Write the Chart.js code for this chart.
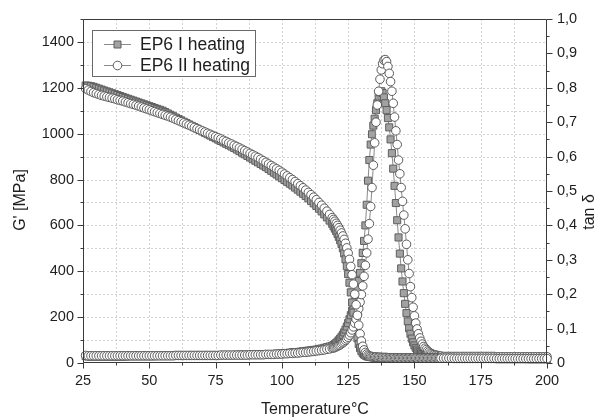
<!DOCTYPE html>
<html><head><meta charset="utf-8">
<script src="https://cdn.jsdelivr.net/npm/chart.js@4.4.1/dist/chart.umd.min.js"></script>
<style>html,body{margin:0;padding:0;background:#fff;}#wrap{width:603px;height:420px;position:relative;}</style>
</head><body><div id="wrap"><canvas id="c" width="603" height="420"></canvas></div>
<script>
// Temperature (°C) shared by all curves
const temperature = [
 26,27,28,29,30,31,32,33,34,35, 36,37,38,39,40,41,42,43,44,45,
 46,47,48,49,50,51,52,53,54,55, 56,57,58,59,60,61,62,63,64,65,
 66,67,68,69,70,71,72,73,74,75, 76,77,78,79,80,81,82,83,84,85,
 86,87,88,89,90,91,92,93,94,95, 96,97,98,99,100,101,102,103,104,105,
 106,107,108,109,110,111,112,113,114,115, 116,117,118,119,
 119.5,120,120.5,121,121.5,122,122.5,123,123.5,124,
 124.5,125,125.5,126,126.5,127,127.5,128,128.5,129,
 129.5,130,130.5,131,131.5,132,132.5,133,133.5,134,
 134.5,135,135.5,136,136.5,137,137.5,138,138.5,139,
 139.5,140,140.5,141,141.5,142,142.5,143,143.5,144,
 144.5,145,145.5,146,146.5,147,147.5,148,148.5,149,
 149.5,150,150.5,151,151.5,152,152.5,153,153.5,154,
 154.5,155,155.5,156,156.5,157,157.5,158,158.5,159,
 159.5,160,
 161,162,163,164,165,166,167,168,169,170, 171,172,173,174,175,176,177,178,179,180,
 181,182,183,184,185,186,187,188,189,190, 191,192,193,194,195,196,197,198,199,200
];
// G' [MPa], EP6 I heating
const storageI = [
 1210,1209,1207,1204,1200,1196,1192,1188,1184,1180, 1176,1172,1168,1164,1160,1156,1152,1148,1144,1140,
 1136,1132,1128,1124,1120,1116,1112,1108,1104,1100, 1094,1088,1082,1076,1070,1064,1058,1052,1046,1040,
 1034,1028,1022,1016,1010,1004,998,992,986,980, 974,968,962,956,950,944,938,931,924,917,
 910,903,896,889,882,875,868,861,854,846, 838,830,822,814,806,798,790,782,774,765,
 756,747,738,728,718,707,696,685,673,661, 648,635,621,607,
 596,586,575,563,550,535,519,500,478,452,
 422,388,350,308,264,220,178,140,108,83,
 65,52,43,37,33,30,28,27,26,25,
 25,24,24,24,24,23,23,23,23,23,
 22,22,22,22,22,22,22,21,21,21,
 21,21,21,21,21,21,21,21,21,21,
 20,20,20,20,20,20,20,20,20,20,
 20,20,20,20,20,20,20,20,20,20,
 20,20,
 20,20,20,20,19,19,19,19,19,19, 19,19,18,18,18,18,18,18,18,18,
 18,18,18,18,18,18,18,18,18,18, 18,18,17,17,17,17,17,17,17,17
];
// G' [MPa], EP6 II heating
const storageII = [
 1196,1190,1184,1179,1175,1171,1167,1164,1161,1158, 1155,1152,1148,1145,1142,1138,1135,1131,1128,1124,
 1120,1116,1112,1108,1104,1100,1096,1092,1088,1084, 1080,1076,1072,1067,1062,1057,1052,1047,1042,1037,
 1032,1027,1022,1017,1012,1007,1002,997,992,987, 982,977,971,966,960,955,949,944,938,932,
 926,920,914,908,902,896,889,882,875,868, 861,854,847,840,832,824,816,808,800,791,
 782,773,764,754,744,734,723,712,700,688, 675,662,648,634,
 626,618,609,600,590,579,567,554,539,522,
 502,479,452,421,385,344,300,254,208,165,
 127,96,73,57,46,39,34,31,29,28,
 27,26,26,25,25,25,24,24,24,24,
 24,23,23,23,23,23,23,22,22,22,
 22,22,22,22,22,22,22,22,22,22,
 22,22,22,21,21,21,21,21,21,21,
 21,21,21,21,21,21,21,21,21,21,
 21,21,
 21,21,21,21,20,20,20,20,20,20, 20,20,20,20,20,20,20,20,20,20,
 19,19,19,19,19,19,19,19,19,19, 19,19,19,19,19,19,19,19,19,19
];
// tan δ, EP6 I heating
const tanI = [
 0.020,0.019,0.019,0.019,0.019,0.019,0.019,0.019,0.019,0.019, 0.019,0.019,0.019,0.019,0.019,0.019,0.020,0.020,0.020,0.020,
 0.020,0.020,0.020,0.020,0.020,0.020,0.020,0.021,0.021,0.021, 0.021,0.021,0.021,0.021,0.021,0.021,0.021,0.022,0.022,0.022,
 0.022,0.022,0.022,0.022,0.022,0.022,0.022,0.022,0.023,0.023, 0.023,0.023,0.023,0.023,0.023,0.023,0.023,0.024,0.024,0.024,
 0.024,0.024,0.024,0.024,0.025,0.025,0.025,0.025,0.025,0.026, 0.026,0.026,0.027,0.027,0.028,0.029,0.029,0.030,0.031,0.031,
 0.032,0.033,0.034,0.035,0.036,0.037,0.038,0.039,0.041,0.042, 0.044,0.046,0.048,0.050,
 0.052,0.055,0.058,0.062,0.066,0.071,0.076,0.082,0.089,0.097,
 0.106,0.116,0.127,0.139,0.152,0.166,0.181,0.198,0.217,0.238,
 0.262,0.29,0.32,0.355,0.40,0.46,0.53,0.59,0.635,0.665,
 0.69,0.71,0.735,0.755,0.775,0.787,0.79,0.785,0.772,0.755,
 0.735,0.712,0.685,0.65,0.61,0.565,0.515,0.465,0.415,0.365,
 0.318,0.275,0.237,0.203,0.172,0.145,0.121,0.101,0.085,0.071,
 0.06,0.051,0.044,0.039,0.034,0.031,0.028,0.026,0.024,0.022,
 0.021,0.02,0.019,0.019,0.018,0.018,0.018,0.017,0.017,0.017,
 0.017,0.017,
 0.017,0.017,0.017,0.017,0.017,0.017,0.017,0.017,0.017,0.017, 0.016,0.016,0.016,0.016,0.016,0.016,0.016,0.016,0.016,0.016,
 0.016,0.016,0.016,0.016,0.016,0.016,0.016,0.016,0.016,0.016, 0.016,0.016,0.016,0.016,0.016,0.016,0.016,0.016,0.016,0.016
];
// tan δ, EP6 II heating
const tanII = [
 0.022,0.021,0.021,0.021,0.021,0.021,0.021,0.021,0.021,0.021, 0.021,0.021,0.021,0.021,0.021,0.021,0.021,0.021,0.021,0.021,
 0.021,0.021,0.021,0.021,0.021,0.021,0.021,0.021,0.021,0.021, 0.021,0.021,0.021,0.021,0.022,0.022,0.022,0.022,0.022,0.022,
 0.022,0.022,0.022,0.022,0.022,0.022,0.022,0.022,0.022,0.022, 0.022,0.023,0.023,0.023,0.023,0.023,0.023,0.023,0.023,0.023,
 0.023,0.023,0.024,0.024,0.024,0.024,0.024,0.024,0.025,0.025, 0.025,0.025,0.026,0.026,0.026,0.027,0.027,0.028,0.028,0.029,
 0.029,0.030,0.031,0.031,0.032,0.033,0.034,0.035,0.036,0.037, 0.038,0.040,0.041,0.043,
 0.044,0.045,0.047,0.049,0.051,0.053,0.056,0.059,0.062,0.066,
 0.070,0.075,0.081,0.088,0.096,0.105,0.116,0.128,0.142,0.158,
 0.177,0.199,0.224,0.252,0.284,0.32,0.36,0.405,0.455,0.51,
 0.575,0.64,0.70,0.75,0.79,0.825,0.852,0.87,0.88,0.882,
 0.876,0.862,0.842,0.818,0.79,0.755,0.715,0.675,0.635,0.59,
 0.55,0.51,0.47,0.43,0.39,0.345,0.30,0.26,0.222,0.19,
 0.162,0.137,0.116,0.099,0.085,0.073,0.063,0.055,0.048,0.043,
 0.039,0.035,0.032,0.029,0.027,0.025,0.024,0.023,0.022,0.021,
 0.020,0.020,
 0.019,0.019,0.019,0.019,0.019,0.019,0.019,0.019,0.019,0.019, 0.019,0.019,0.019,0.019,0.019,0.019,0.019,0.019,0.019,0.019,
 0.018,0.018,0.018,0.018,0.018,0.018,0.018,0.018,0.018,0.018, 0.018,0.018,0.018,0.018,0.018,0.018,0.018,0.018,0.018,0.018
];
const seriesNames = ['EP6 I heating', 'EP6 II heating'];
const xAxisTitle = 'Temperature°C';
const yAxisTitle = "G' [MPa]";
const y2AxisTitle = 'tan δ';

const FONT = '"Liberation Sans", Arial, sans-serif';
const pts = vals => temperature.map((t, i) => ({x: t, y: vals[i]}));

const sqStyle = {pointStyle: 'rect', pointRadius: 5, pointBackgroundColor: '#a2a2a2', pointBorderColor: '#5e5e5e', pointBorderWidth: 1, borderColor: '#8a8a8a', borderWidth: 1, order: 2};
const ciStyle = {pointStyle: 'circle', pointRadius: 4.3, pointBackgroundColor: '#ffffff', pointBorderColor: '#5a5a5a', pointBorderWidth: 1, borderColor: '#8a8a8a', borderWidth: 1, order: 1};

const decor = {
  id: 'decor',
  beforeDatasetsDraw(chart) {
    const {ctx, chartArea: a, scales: {x, y}} = chart;
    ctx.save();
    ctx.strokeStyle = '#d2d2d2'; ctx.lineWidth = 1; ctx.setLineDash([2, 2]);
    x.ticks.forEach(t => {
      if (t.value <= x.min || t.value >= x.max) return;
      const p = Math.round(x.getPixelForValue(t.value)) + 0.5;
      ctx.beginPath(); ctx.moveTo(p, a.top); ctx.lineTo(p, a.bottom); ctx.stroke();
    });
    y.ticks.forEach(t => {
      if (t.value <= y.min || t.value >= y.max) return;
      const p = Math.round(y.getPixelForValue(t.value)) + 0.5;
      ctx.beginPath(); ctx.moveTo(a.left, p); ctx.lineTo(a.right, p); ctx.stroke();
    });
    ctx.restore();
  },
  afterDatasetsDraw(chart) {
    const {ctx, chartArea: a, scales: {x, y, y2}} = chart;
    ctx.save();
    ctx.strokeStyle = '#3a3a3a'; ctx.lineWidth = 1;
    const L = Math.round(a.left) + 0.5, R = Math.round(a.right) - 0.5, T = Math.round(a.top) + 0.5, B = Math.round(a.bottom) - 0.5;
    ctx.beginPath(); ctx.moveTo(L, T); ctx.lineTo(R, T); ctx.lineTo(R, B); ctx.lineTo(L, B); ctx.closePath(); ctx.stroke();
    // ticks
    ctx.beginPath();
    x.ticks.forEach(t => {
      const p = Math.round(x.getPixelForValue(t.value)) + 0.5;
      const len = t.label ? 6 : 3;
      ctx.moveTo(p, B); ctx.lineTo(p, B + len);
    });
    y.ticks.forEach(t => {
      const p = Math.round(y.getPixelForValue(t.value)) + 0.5;
      const len = t.label ? 6 : 3;
      ctx.moveTo(L, p); ctx.lineTo(L - len, p);
    });
    y2.ticks.forEach(t => {
      const p = Math.round(y2.getPixelForValue(t.value)) + 0.5;
      const len = t.label ? 6 : 3;
      ctx.moveTo(R, p); ctx.lineTo(R + len, p);
    });
    ctx.stroke();
    // axis titles
    ctx.fillStyle = '#1e1e1e';
    ctx.font = '16px ' + FONT;
    ctx.textAlign = 'center'; ctx.textBaseline = 'middle';
    ctx.fillText(xAxisTitle, (a.left + a.right) / 2, 410);
    ctx.save(); ctx.translate(21, 200); ctx.rotate(-Math.PI / 2); ctx.fillText(yAxisTitle, 0, 0); ctx.restore();
    ctx.save(); ctx.translate(590, 212); ctx.rotate(-Math.PI / 2); ctx.fillText(y2AxisTitle, 0, 0); ctx.restore();
    // legend
    const bx = 92.5, by = 30.5, bw = 163, bh = 46;
    ctx.fillStyle = '#ffffff'; ctx.fillRect(bx, by, bw, bh);
    ctx.strokeStyle = '#6a6a6a'; ctx.strokeRect(bx, by, bw, bh);
    const rows = [{y: 44, s: sqStyle}, {y: 65, s: ciStyle}];
    rows.forEach((r, i) => {
      ctx.strokeStyle = '#8a8a8a'; ctx.lineWidth = 1;
      ctx.beginPath(); ctx.moveTo(104, r.y + 0.5); ctx.lineTo(131, r.y + 0.5); ctx.stroke();
      ctx.fillStyle = r.s.pointBackgroundColor; ctx.strokeStyle = r.s.pointBorderColor;
      ctx.beginPath();
      if (i === 0) { ctx.rect(114, r.y - 3, 7, 7); } else { ctx.arc(117.5, r.y + 0.5, 4.3, 0, Math.PI * 2); }
      ctx.fill(); ctx.stroke();
      ctx.fillStyle = '#1e1e1e'; ctx.font = '17.5px ' + FONT; ctx.textAlign = 'left'; ctx.textBaseline = 'middle';
      ctx.fillText(seriesNames[i], 140, r.y + 1);
    });
    ctx.restore();
  }
};

new Chart(document.getElementById('c'), {
  type: 'line',
  data: {
    datasets: [
      Object.assign({label: seriesNames[0], data: pts(storageI), yAxisID: 'y'}, sqStyle),
      Object.assign({label: seriesNames[0] + ' tan', data: pts(tanI), yAxisID: 'y2'}, sqStyle),
      Object.assign({label: seriesNames[1], data: pts(storageII), yAxisID: 'y'}, ciStyle),
      Object.assign({label: seriesNames[1] + ' tan', data: pts(tanII), yAxisID: 'y2'}, ciStyle)
    ]
  },
  options: {
    responsive: false, animation: false, devicePixelRatio: 1,
    clip: false,
    layout: {padding: {top: 19, left: 0, right: 0, bottom: 0}},
    plugins: {legend: {display: false}, tooltip: {enabled: false}},
    elements: {line: {tension: 0}},
    scales: {
      x: {
        type: 'linear', min: 25, max: 200,
        grid: {display: false, drawTicks: false}, border: {display: false},
        afterFit: s => { s.height = 57; },
        ticks: {stepSize: 12.5, autoSkip: false, maxRotation: 0, padding: 9, color: '#1e1e1e', font: {family: FONT, size: 14.5},
          callback: v => (Math.abs(v % 25) < 1e-6 ? String(v) : '')}
      },
      y: {
        position: 'left', min: 0, max: 1500,
        grid: {display: false, drawTicks: false}, border: {display: false},
        afterFit: s => { s.width = 83; },
        ticks: {stepSize: 100, autoSkip: false, padding: 9, color: '#1e1e1e', font: {family: FONT, size: 14.5},
          callback: v => (v % 200 === 0 ? String(v) : '')}
      },
      y2: {
        position: 'right', min: 0, max: 1,
        grid: {display: false, drawTicks: false}, border: {display: false},
        afterFit: s => { s.width = 56; },
        ticks: {stepSize: 0.05, autoSkip: false, padding: 10, color: '#1e1e1e', font: {family: FONT, size: 14.5},
          callback: v => { const k = Math.round(v * 100); if (k % 10 !== 0) return ''; if (k === 0) return '0'; return (k / 100).toFixed(1).replace('.', ','); }}
      }
    }
  },
  plugins: [decor]
});
</script>
</body></html>
